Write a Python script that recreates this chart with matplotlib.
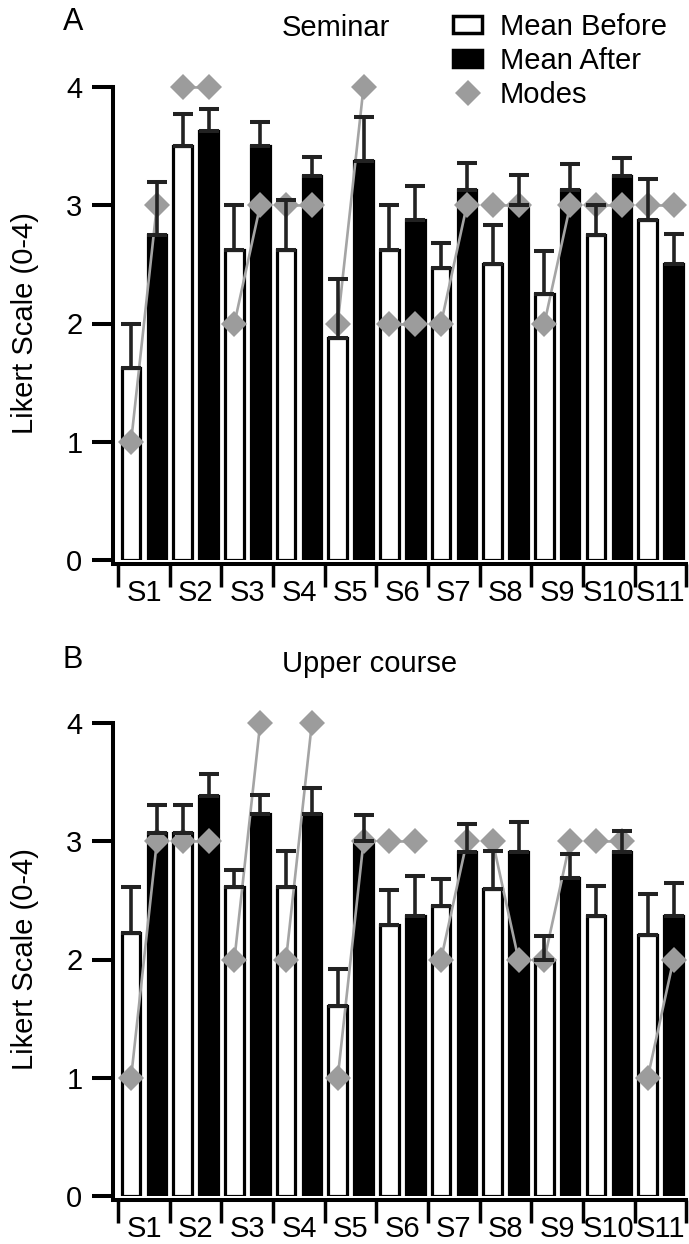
import matplotlib
matplotlib.use("Agg")
import matplotlib.pyplot as plt
import numpy as np
from matplotlib.patches import Rectangle
from matplotlib.lines import Line2D

plt.rcParams['font.family'] = ['Liberation Sans', 'DejaVu Sans']
plt.rcParams['font.size'] = 21

sessions = ["S1", "S2", "S3", "S4", "S5", "S6", "S7", "S8", "S9", "S10", "S11"]

# panel A - seminar
A_before = [1.625, 3.5, 2.625, 2.625, 1.875, 2.625, 2.47, 2.5, 2.25, 2.75, 2.875]
A_before_err = [0.375, 0.27, 0.375, 0.42, 0.5, 0.375, 0.21, 0.33, 0.36, 0.25, 0.35]
A_after = [2.75, 3.625, 3.5, 3.25, 3.375, 2.875, 3.125, 3.0, 3.125, 3.25, 2.5]
A_after_err = [0.45, 0.19, 0.2, 0.16, 0.37, 0.29, 0.23, 0.26, 0.22, 0.15, 0.26]
A_mode_before = [1, 4, 2, 3, 2, 2, 2, 3, 2, 3, 3]
A_mode_after = [3, 4, 3, 3, 4, 2, 3, 3, 3, 3, 3]

# panel B - upper course
B_before = [2.22, 3.07, 2.61, 2.61, 1.61, 2.29, 2.45, 2.6, 2.0, 2.37, 2.21]
B_before_err = [0.39, 0.24, 0.15, 0.31, 0.31, 0.3, 0.23, 0.32, 0.2, 0.25, 0.34]
B_after = [3.07, 3.38, 3.23, 3.23, 3.0, 2.37, 2.91, 2.91, 2.69, 2.91, 2.37]
B_after_err = [0.24, 0.19, 0.16, 0.22, 0.22, 0.34, 0.24, 0.25, 0.2, 0.18, 0.28]
B_mode_before = [1, 3, 2, 2, 1, 3, 2, 3, 2, 3, 1]
B_mode_after = [3, 3, 4, 4, 3, 3, 3, 2, 3, 3, 2]

W, H = 689, 1244
fig = plt.figure(figsize=(W / 100, H / 100), dpi=100)

MODE_C = '#9c9c9c'
LINE_C = '#a4a4a4'
ERR_C = '#222222'


def panel(ax, before, berr, after, aerr, mb, ma):
    x = np.arange(len(sessions))
    off = 0.25
    ax.bar(x - off, before, width=0.36, color='white', edgecolor='black', linewidth=2.3, zorder=2)
    ax.bar(x + off, after, width=0.36, color='black', edgecolor='black', linewidth=2.3, zorder=2)
    for i in range(len(x)):
        ax.plot([x[i] - off, x[i] + off], [mb[i], ma[i]], color=LINE_C, lw=1.9, zorder=3, clip_on=False)
    ax.plot(x - off, mb, 'D', color=MODE_C, ms=13.5, mew=0, zorder=4, clip_on=False)
    ax.plot(x + off, ma, 'D', color=MODE_C, ms=13.5, mew=0, zorder=4, clip_on=False)
    z = np.zeros(len(x))
    ax.errorbar(x - off, before, yerr=[z, berr], fmt='none', ecolor=ERR_C, elinewidth=2.6,
                capsize=7, capthick=2.9, zorder=5, clip_on=False)
    ax.errorbar(x + off, after, yerr=[z, aerr], fmt='none', ecolor=ERR_C, elinewidth=2.6,
                capsize=7, capthick=2.9, zorder=5, clip_on=False)

    ax.set_xlim(-0.6, 10.55)
    ax.set_ylim(0, 4)
    ax.spines['top'].set_visible(False)
    ax.spines['right'].set_visible(False)
    ax.spines['left'].set_bounds(0, 4)
    ax.spines['left'].set_linewidth(2.9)
    ax.spines['bottom'].set_position(('outward', 3))
    ax.spines['bottom'].set_bounds(-0.6, 10.5)
    ax.spines['bottom'].set_linewidth(2.9)
    ax.set_yticks([0, 1, 2, 3, 4])
    ax.tick_params(axis='y', length=15, width=2.9, pad=7, labelsize=21)
    ax.set_xticks(x)
    ax.set_xticklabels(sessions)
    ax.set_xticks(np.arange(-0.5, 11, 1), minor=True)
    ax.tick_params(axis='x', which='major', length=0, pad=11, labelsize=21)
    ax.tick_params(axis='x', which='minor', length=16.5, width=2.5, direction='out')
    ax.set_ylabel("Likert Scale (0-4)")
    ax.yaxis.set_label_coords(-0.128, 0.5)


axA = fig.add_axes([113 / W, (H - 560) / H, 576 / W, 473 / H])
panel(axA, A_before, A_before_err, A_after, A_after_err, A_mode_before, A_mode_after)
axB = fig.add_axes([113 / W, (H - 1196) / H, 576 / W, 473 / H])
panel(axB, B_before, B_before_err, B_after, B_after_err, B_mode_before, B_mode_after)

fig.text(73 / W, 1 - 22 / H, "A", ha='center', va='center', fontsize=22)
fig.text(282 / W, 1 - 28 / H, "Seminar", ha='left', va='center')
fig.text(73 / W, 1 - 660 / H, "B", ha='center', va='center', fontsize=22)
fig.text(282 / W, 1 - 664 / H, "Upper course", ha='left', va='center')

handles = [Rectangle((0, 0), 1, 1, facecolor='white', edgecolor='black', linewidth=2.5),
           Rectangle((0, 0), 1, 1, facecolor='black', edgecolor='black', linewidth=2.5),
           Line2D([], [], marker='D', color=MODE_C, ms=13.5, mew=0, ls='none')]
fig.legend(handles, ["Mean Before", "Mean After", "Modes"], loc='upper left',
           bbox_to_anchor=(453 / W, 1 - 13 / H), frameon=False, fontsize=21,
           handlelength=1.0, handleheight=0.55, handletextpad=0.6, labelspacing=0.2,
           borderpad=0, borderaxespad=0)

fig.savefig("out.png", dpi=100)
